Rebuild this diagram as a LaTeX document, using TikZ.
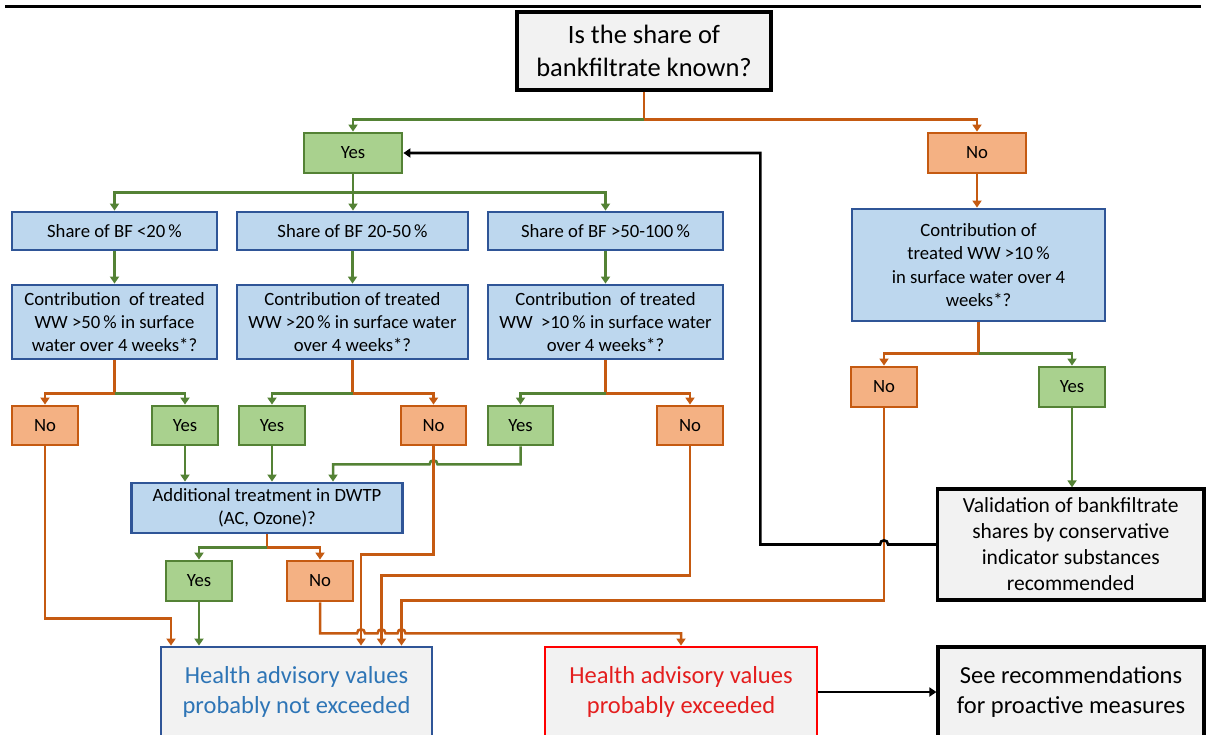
\documentclass[tikz,border=0pt]{standalone}
\usepackage{fontspec}
\setmainfont{Carlito}
\usetikzlibrary{arrows.meta,calc}
\definecolor{gfill}{HTML}{A9D18E}
\definecolor{gdraw}{HTML}{548235}
\definecolor{ofill}{HTML}{F4B183}
\definecolor{odraw}{HTML}{C55A11}
\definecolor{bfill}{HTML}{BDD7EE}
\definecolor{bdraw}{HTML}{2F5597}
\definecolor{lgray}{HTML}{F2F2F2}
\definecolor{hblue}{HTML}{2E75B6}
\definecolor{hred}{HTML}{E41E1E}
\newcommand\fsz[2]{\fontsize{#1}{#2}\selectfont}
\begin{document}
\begin{tikzpicture}[x=1pt,y=-1pt,
  base/.style={align=center,inner sep=0pt,line width=2.8pt,font=\fsz{18.7}{23}},
  gbox/.style={base,fill=gfill,draw=gdraw},
  obox/.style={base,fill=ofill,draw=odraw},
  bbox/.style={base,fill=bfill,draw=bdraw},
  kbox/.style={base,fill=lgray,draw=black,line width=3.2pt},
  gl/.style={draw=gdraw,line width=2.5pt},
  ol/.style={draw=odraw,line width=2.5pt},
  kl/.style={draw=black,line width=2.6pt},
  arr/.style={-{Triangle[width=9pt,length=7pt]}}]
\useasboundingbox (0,0) rectangle (1206,735);
\draw[line width=3pt] (5,7) -- (1201,7);

% nodes
\node[kbox,minimum width=254pt,minimum height=78pt,font=\fsz{26.5}{33}] (top) at (644,51) {Is the share of\\bankfiltrate known?};
\node[gbox,minimum width=98pt,minimum height=40pt] (yesT) at (353,153) {Yes};
\node[obox,minimum width=98pt,minimum height=40pt] (noT) at (977,153) {No};

\node[bbox,minimum width=205pt,minimum height=38pt] (s1) at (114.5,231) {Share of BF <20\,\%};
\node[bbox,minimum width=231pt,minimum height=38pt] (s2) at (352.5,231) {Share of BF 20-50\,\%};
\node[bbox,minimum width=235pt,minimum height=38pt] (s3) at (605.5,231) {Share of BF >50-100\,\%};

\node[bbox,minimum width=205pt,minimum height=74pt] (c1) at (114.5,322) {Contribution\ \ of treated\\WW >50\,\% in surface\\water over 4 weeks*?};
\node[bbox,minimum width=231pt,minimum height=74pt] (c2) at (352.5,322) {Contribution of treated\\WW >20\,\% in surface water\\over 4 weeks*?};
\node[bbox,minimum width=235pt,minimum height=74pt] (c3) at (605.5,322) {Contribution\ \ of treated\\WW\ \ >10\,\% in surface water\\over 4 weeks*?};

\node[bbox,minimum width=253pt,minimum height=112pt,font=\fsz{18.7}{23.5}] (rc) at (978.5,265) {Contribution of\\treated WW >10\,\%\\in surface water over 4\\weeks*?};

\node[obox,minimum width=66pt,minimum height=39pt] (n1) at (45,425.5) {No};
\node[gbox,minimum width=66pt,minimum height=39pt] (y1) at (185,425.5) {Yes};
\node[gbox,minimum width=66pt,minimum height=39pt] (y2) at (272,425.5) {Yes};
\node[obox,minimum width=65pt,minimum height=39pt] (n2) at (433.5,425.5) {No};
\node[gbox,minimum width=65pt,minimum height=39pt] (y3) at (520.5,425.5) {Yes};
\node[obox,minimum width=66pt,minimum height=39pt] (n3) at (690,425.5) {No};

\node[obox,minimum width=66pt,minimum height=40pt] (rn) at (884,387) {No};
\node[gbox,minimum width=66pt,minimum height=40pt] (ry) at (1072,387) {Yes};

\node[bbox,minimum width=271pt,minimum height=50pt] (dwtp) at (267,508) {Additional treatment in DWTP\\(AC, Ozone)?};
\node[gbox,minimum width=66pt,minimum height=40pt] (yb) at (199,581) {Yes};
\node[obox,minimum width=66pt,minimum height=40pt] (nb) at (320,581) {No};

\node[kbox,minimum width=266.5pt,minimum height=111pt,font=\fsz{21.5}{26}] (val) at (1070.75,544.5) {Validation of bankfiltrate\\shares by conservative\\indicator substances\\recommended};

\node[base,fill=lgray,draw=bdraw,text=hblue,minimum width=271pt,minimum height=90pt,font=\fsz{24.5}{29.5}] (hn) at (296.5,692) {Health advisory values\\probably not exceeded};
\node[base,fill=lgray,draw=red,text=hred,minimum width=272pt,minimum height=90pt,font=\fsz{24.5}{29.5}] (he) at (681,692) {Health advisory values\\probably exceeded};
\node[kbox,minimum width=266pt,minimum height=90pt,font=\fsz{24.5}{29.5}] (see) at (1071,692) {See recommendations\\for proactive measures};

% connectors
\draw[ol] (top.south) -- ++(0,28) coordinate (j0);
\draw[gl,arr] (j0) -| (yesT.north);
\draw[ol,arr] (j0) -| (noT.north);

\draw[gl] (yesT.south) -- ++(0,18) coordinate (j1);
\draw[gl,arr] (j1) -| (s1.north);
\draw[gl,arr] (j1) -- (j1 |- s2.north);
\draw[gl,arr] (j1) -| (s3.north);

\draw[gl,arr] (s1.south) -- (c1.north);
\draw[gl,arr] (s2.south) -- (c2.north);
\draw[gl,arr] (s3.south) -- (c3.north);

\draw[ol] (c1.south) -- ++(0,33) coordinate (j2);
\draw[ol,arr] (j2) -| (n1.north);
\draw[gl,arr] (j2) -| (y1.north);
\draw[ol] (c2.south) -- ++(0,33) coordinate (j3);
\draw[gl,arr] (j3) -| (y2.north);
\draw[ol,arr] (j3) -| (n2.north);
\draw[ol] (c3.south) -- ++(0,33) coordinate (j4);
\draw[gl,arr] (j4) -| (y3.north);
\draw[ol,arr] (j4) -| (n3.north);

\draw[ol,arr] (noT.south) -- (noT.south |- rc.north);
\draw[ol] (rc.south) -- ++(0,31) coordinate (j5);
\draw[ol,arr] (j5) -| (rn.north);
\draw[gl,arr] (j5) -| (ry.north);
\draw[gl,arr] (ry.south) -- (ry.south |- val.north);

\draw[gl,arr] (y1.south) -- (y1.south |- dwtp.north);
\draw[gl,arr] (y2.south) -- (y2.south |- dwtp.north);
\coordinate (h1) at ($(n2.south)+(0,18)$);
\draw[gl,arr] (y3.south) -- ++(0,18) -- ([xshift=4pt]h1) .. controls ([xshift=4pt,yshift=5.5pt]h1) and ([xshift=-4pt,yshift=5.5pt]h1) .. ([xshift=-4pt]h1) -| ([xshift=66pt]dwtp.north);

\draw[ol] (dwtp.south) -- ++(0,13) coordinate (j6);
\draw[gl,arr] (j6) -| (yb.north);
\draw[ol,arr] (j6) -| (nb.north);

\coordinate (v2) at ([xshift=64.5pt]hn.north);
\coordinate (v3) at ([xshift=85pt]hn.north);
\coordinate (v4) at ([xshift=105pt]hn.north);
\draw[ol,arr] (n1.south) -- ++(0,172) -| ([xshift=-125.5pt]hn.north);
\draw[gl,arr] (yb.south) -- (yb.south |- hn.north);
\draw[ol,arr] (n2.south) -- ++(0,108) -| (v2);
\draw[ol,arr] (n3.south) -- ++(0,129) -| (v3);
\draw[ol,arr] (rn.south) -- ++(0,192) -| (v4);

\coordinate (nbk) at ($(nb.south)+(0,31)$);
\coordinate (k1) at (v2 |- nbk);
\coordinate (k2) at (v3 |- nbk);
\coordinate (k3) at (v4 |- nbk);
\draw[ol,arr] (nb.south) -- (nbk)
  -- ([xshift=-4pt]k1) .. controls ([xshift=-4pt,yshift=5.5pt]k1) and ([xshift=4pt,yshift=5.5pt]k1) .. ([xshift=4pt]k1)
  -- ([xshift=-4pt]k2) .. controls ([xshift=-4pt,yshift=5.5pt]k2) and ([xshift=4pt,yshift=5.5pt]k2) .. ([xshift=4pt]k2)
  -- ([xshift=-4pt]k3) .. controls ([xshift=-4pt,yshift=5.5pt]k3) and ([xshift=4pt,yshift=5.5pt]k3) .. ([xshift=4pt]k3)
  -| (he.north);

\coordinate (h2) at (rn.south |- val.west);
\coordinate (bk) at ($(val.west)+(-175.5,0)$);
\draw[kl,arr] (val.west) -- ([xshift=4pt]h2) .. controls ([xshift=4pt,yshift=5.5pt]h2) and ([xshift=-4pt,yshift=5.5pt]h2) .. ([xshift=-4pt]h2) -- (bk) |- (yesT.east);

\draw[kl,arr] (he.east) -- (see.west);
\end{tikzpicture}
\end{document}
